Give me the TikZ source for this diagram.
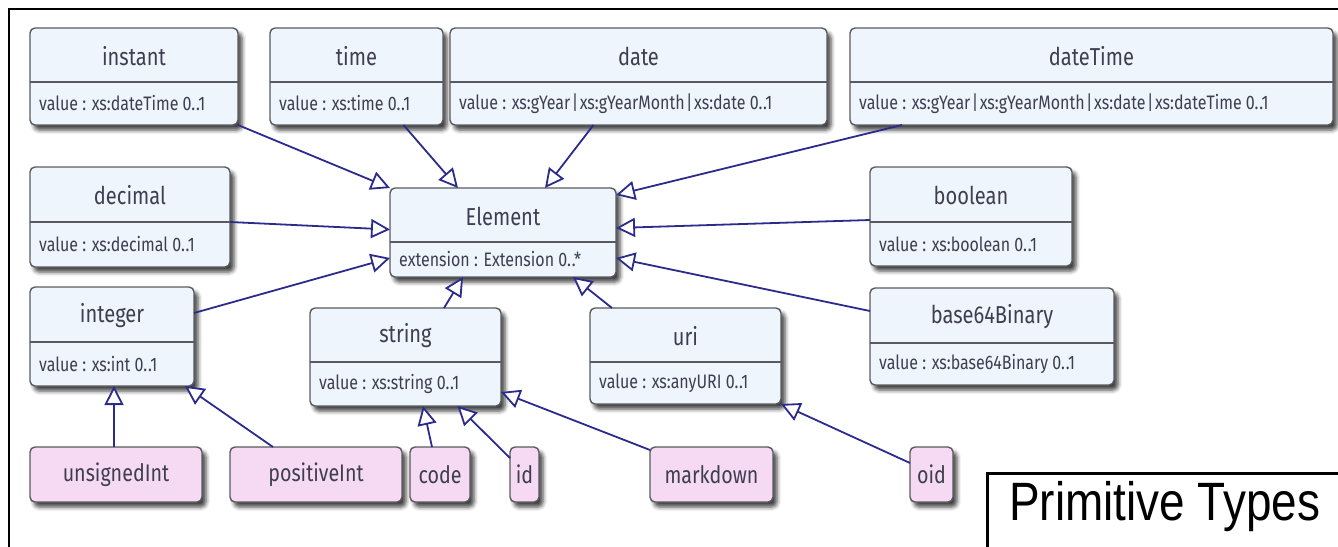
\documentclass[tikz,border=0pt]{standalone}
\usepackage{fontspec}
\setmainfont{Fira Sans}[FakeStretch=0.82]
\newfontfamily\captionfont{Liberation Sans}[FakeStretch=0.85]
\usetikzlibrary{arrows.meta,shadows.blur}

\definecolor{classfill}{HTML}{EEF5FD}
\definecolor{pinkfill}{HTML}{F6DAF4}
\definecolor{boxedge}{HTML}{5A5A5E}
\definecolor{txt}{HTML}{3E3E50}
\definecolor{navy}{HTML}{2B2B8C}

\tikzset{
  boxshadow/.style={blur shadow={shadow xshift=4pt, shadow yshift=-5pt,
      shadow blur radius=4pt, shadow opacity=75}},
  classbox/.style={draw=boxedge, line width=1.4pt, rounded corners=5pt,
      fill=classfill, inner sep=0pt, outer sep=0pt, boxshadow},
  pinkbox/.style={draw=boxedge, line width=1.4pt, rounded corners=5pt,
      fill=pinkfill, inner sep=0pt, outer sep=0pt, boxshadow,
      text=txt, font=\fontsize{24}{28}\selectfont},
  divline/.style={draw=boxedge, line width=1.2pt},
  titletext/.style={inner sep=0pt, text=txt, font=\fontsize{24.5}{28}\selectfont},
  valtext/.style={inner sep=0pt, anchor=west, text=txt, font=\fontsize{19.5}{22}\selectfont},
  gen/.style={draw=navy, line width=1.8pt,
      -{Triangle[fill=white, length=19pt, width=19pt]}},
}

% union separator and range dots in attribute types
\newcommand\tor{\hspace{1.5pt}|\hspace{1.5pt}}
\newcommand\dd{.\kern0.8pt.}

% class box: name, x1, y1, x2, y2, divider y, title, attribute
\newcommand\umlclass[8]{%
  \node[classbox, minimum width={#4-#2}, minimum height={#5-#3}]
    (#1) at ({(#2+#4)/2},{(#3+#5)/2}) {};
  \draw[divline] ({#2},{#6}) -- ({#4},{#6});
  \node[titletext] (#1-t) at ({(#2+#4)/2},{(#3+#6)/2+1}) {#7};
  \node[valtext] (#1-v) at ({#2+9},{(#6+#5)/2}) {#8};
}
% derived type box: name, x1, x2, label
\newcommand\umlleaf[4]{%
  \node[pinkbox, minimum width={#3-#2}, minimum height=55]
    (#1) at ({(#2+#3)/2},474.5) {#4};
}

\begin{document}
\begin{tikzpicture}[x=1pt, y=-1pt]
\useasboundingbox (0,0) rectangle (1338,546);

% frame
\draw[line width=2pt] (9,560) -- (9,9) -- (1345,9);

% classes
\umlclass{instant}{30}{28}{238}{125}{82}{instant}{value : xs:dateTime 0\dd1}
\umlclass{time}{270}{28}{443}{125}{82}{time}{value : xs:time 0\dd1}
\umlclass{date}{450}{28}{827}{125}{82}{date}{value : xs:gYear\tor xs:gYearMonth\tor xs:date 0\dd1}
\umlclass{datetime}{850}{28}{1333}{125}{82}{dateTime}{value : xs:gYear\tor xs:gYearMonth\tor xs:date\tor xs:dateTime 0\dd1}
\umlclass{decimal}{30}{167}{230}{267}{222}{decimal}{value : xs:decimal 0\dd1}
\umlclass{elem}{390}{188}{616}{277}{242}{Element}{extension : Extension 0\dd*}
\umlclass{boolean}{870}{167}{1072}{266}{222}{boolean}{value : xs:boolean 0\dd1}
\umlclass{integer}{30}{287}{194}{386}{342}{integer}{value : xs:int 0\dd1}
\umlclass{string}{310}{308}{501}{406}{362}{string}{value : xs:string 0\dd1}
\umlclass{uri}{590}{308}{781}{404}{362}{uri}{value : xs:anyURI 0\dd1}
\umlclass{base64}{870}{288}{1114}{385}{343}{base64Binary}{value : xs:base64Binary 0\dd1}

% derived types
\umlleaf{unsignedint}{30}{202}{unsignedInt}
\umlleaf{positiveint}{230}{402}{positiveInt}
\umlleaf{code}{410}{470}{code}
\umlleaf{id}{510}{539}{id}
\umlleaf{markdown}{650}{773}{markdown}
\umlleaf{oid}{910}{953}{oid}

% generalisations to Element
\draw[gen] (instant.south east) -- (elem.north west);
\draw[gen] ([xshift=47pt]time.south) -- ([xshift=68pt]elem.north west);
\draw[gen] ([xshift=-45pt]date.south) -- ([xshift=42pt]elem.north);
\draw[gen] ([xshift=52pt]datetime.south west) -- ([yshift=-7pt]elem.north east);
\draw[gen] ([yshift=-5pt]decimal.east) -- ([yshift=3pt]elem.west);
\draw[gen] ([yshift=-3.5pt]boolean.west) -- ([yshift=4.5pt]elem.east);
\draw[gen] ([yshift=23.5pt]integer.east) -- ([yshift=-25.5pt]elem.west);
\draw[gen] ([yshift=25.5pt]base64.west) -- ([yshift=-25.5pt]elem.east);
\draw[gen] ([xshift=38.5pt]string.north) -- ([xshift=-40pt]elem.south);
\draw[gen] ([xshift=22pt]uri.north west) -- ([xshift=70pt]elem.south);

% generalisations of derived types
\draw[gen] ([xshift=-2pt]unsignedint.north) -- ([xshift=2pt]integer.south);
\draw[gen] ([xshift=-43pt]positiveint.north) -- ([xshift=-9pt]integer.south east);
\draw[gen] ([xshift=-8pt]code.north) -- ([xshift=17.5pt]string.south);
\draw[gen] ([yshift=-11pt]id.north west) -- ([xshift=52pt]string.south);
\draw[gen] ([yshift=-3pt]markdown.north west) -- ([yshift=14pt]string.south east);
\draw[gen] ([yshift=11.5pt]oid.west) -- (uri.south east);

% caption
\draw[line width=3pt, fill=white] (987,473) rectangle (1350,560);
\node[anchor=base west, inner sep=0pt, font=\captionfont\fontsize{54}{60}\selectfont]
  (caption) at (1009,520) {Primitive Types};
\end{tikzpicture}
\end{document}
